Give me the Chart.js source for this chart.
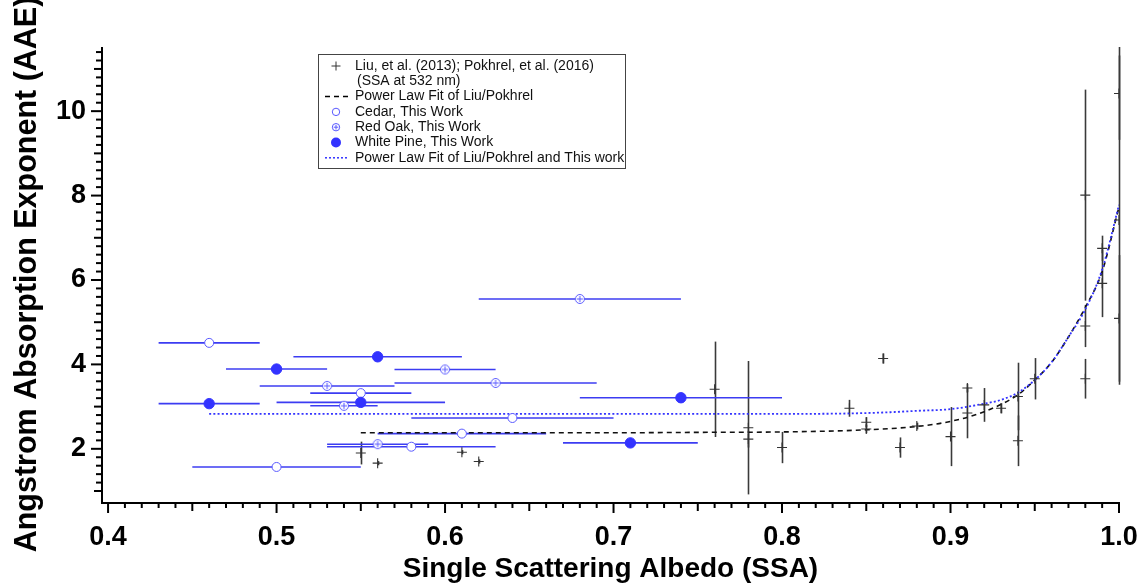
<!DOCTYPE html>
<html><head><meta charset="utf-8">
<script src="https://cdn.jsdelivr.net/npm/chart.js@4.4.0/dist/chart.umd.min.js"></script>
<style>html,body{margin:0;padding:0;background:#fff;overflow:hidden}#wrap{width:1142px;height:583px;position:relative}</style>
</head><body><div id="wrap"><canvas id="c" width="1142" height="583"></canvas></div>
<script>
// ---- data ----
const liuX   = [0.55,0.56,0.61,0.62,0.76,0.78,0.78,0.80,0.84,0.85,0.85,0.86,0.87,0.88,0.90,0.91,0.91,0.92,0.93,0.94,0.94,0.95,0.98,0.98,0.98,0.99,0.99,1.00,1.00,1.00];
const liuY   = [1.90,1.66,1.92,1.70,3.41,2.50,2.23,2.03,2.96,2.63,2.47,4.14,2.03,2.54,2.29,3.44,2.85,3.04,2.96,2.19,3.24,3.66,3.66,4.91,8.01,6.75,5.92,10.42,7.42,5.09];
const liuErr = [0.27,0.05,0.05,0.05,1.13,1.58,0.20,0.37,0.20,0.12,0.10,0.12,0.24,0.08,0.70,0.10,0.60,0.40,0.12,0.60,0.80,0.49,0.47,0.50,2.50,0.30,0.80,1.10,3.90,1.50];

const cedarX    = [0.46,0.55,0.64,0.61,0.58,0.50];
const cedarY    = [4.51,3.32,2.73,2.36,2.05,1.57];
const cedarXErr = [0.03,0.03,0.06,0.05,0.05,0.05];

const oakX    = [0.60,0.63,0.53,0.54,0.56,0.68];
const oakY    = [3.88,3.56,3.49,3.02,2.11,5.55];
const oakXErr = [0.03,0.06,0.04,0.02,0.03,0.06];

const pineX    = [0.56,0.50,0.55,0.46,0.74,0.71];
const pineY    = [4.18,3.89,3.10,3.07,3.21,2.14];
const pineXErr = [0.05,0.03,0.05,0.03,0.06,0.04];

const fitLiuX = [0.55,0.60,0.65,0.70,0.75,0.80,0.85,0.88,0.90,0.92,0.94,0.95,0.96,0.97,0.98,0.99,1.00];
const fitLiuY = [2.38,2.38,2.38,2.38,2.39,2.40,2.45,2.53,2.65,2.88,3.28,3.63,4.05,4.65,5.35,6.20,7.73];
const fitAllX = [0.46,0.55,0.65,0.75,0.82,0.86,0.88,0.90,0.92,0.93,0.94,0.95,0.96,0.97,0.98,0.99,1.00];
const fitAllY = [2.83,2.83,2.83,2.83,2.83,2.86,2.90,2.94,3.07,3.16,3.33,3.63,4.05,4.65,5.30,6.25,7.78];

const xTicks = [0.4,0.5,0.6,0.7,0.8,0.9,1.0];
const yTicks = [2,4,6,8,10];

const legendItems = [
  ['plus',  'Liu, et al. (2013); Pokhrel, et al. (2016)'],
  [null,    '(SSA at 532 nm)'],
  ['dash',  'Power Law Fit of Liu/Pokhrel'],
  ['circle','Cedar, This Work'],
  ['oplus', 'Red Oak, This Work'],
  ['dot',   'White Pine, This Work'],
  ['dotted','Power Law Fit of Liu/Pokhrel and This work']
];

// ---- styles ----
const FONT = "'Liberation Sans', Arial, Helvetica, sans-serif";
const BLUE = '#3333ff';
const BLUE_ERR = '#3c3cf2';
const BLUE_OPEN = '#5a5aff';
const BLACK_PT = '#333333';

const pts = (xs, ys) => xs.map((v, i) => ({x: v, y: ys[i]}));

function oplusCanvas(r) {
  const s = Math.ceil(r * 2 + 3);
  const cv = document.createElement('canvas');
  cv.width = s; cv.height = s;
  const g = cv.getContext('2d');
  const c = s / 2;
  g.fillStyle = '#fff';
  g.strokeStyle = BLUE_OPEN; g.lineWidth = 1;
  g.beginPath(); g.arc(c, c, r, 0, Math.PI * 2); g.fill(); g.stroke();
  g.beginPath();
  g.moveTo(c - r + 1.5, c); g.lineTo(c + r - 1.5, c);
  g.moveTo(c, c - r + 1.5); g.lineTo(c, c + r - 1.5);
  g.stroke();
  return cv;
}
const oakStyle = oplusCanvas(4.5);

const errPlugin = {
  id: 'errbars',
  beforeDatasetsDraw(chart) {
    const {ctx, scales: {x, y}} = chart;
    ctx.save();
    ctx.strokeStyle = '#3a3a3a'; ctx.lineWidth = 1.6;
    liuX.forEach((v, i) => {
      const px = Math.round(x.getPixelForValue(v)) + 0.5;
      ctx.beginPath();
      ctx.moveTo(px, y.getPixelForValue(liuY[i] - liuErr[i]));
      ctx.lineTo(px, y.getPixelForValue(liuY[i] + liuErr[i]));
      ctx.stroke();
    });
    ctx.strokeStyle = BLUE_ERR; ctx.lineWidth = 1.6;
    [[cedarX, cedarY, cedarXErr], [oakX, oakY, oakXErr], [pineX, pineY, pineXErr]].forEach(([xs, ys, es]) => {
      xs.forEach((v, i) => {
        const py = y.getPixelForValue(ys[i]);
        ctx.beginPath();
        ctx.moveTo(x.getPixelForValue(v - es[i]), py);
        ctx.lineTo(x.getPixelForValue(v + es[i]), py);
        ctx.stroke();
      });
    });
    ctx.restore();
  }
};

const axesPlugin = {
  id: 'axesDraw',
  afterDraw(chart) {
    const {ctx, chartArea: a, scales: {x, y}} = chart;
    ctx.save();
    ctx.strokeStyle = '#000'; ctx.lineWidth = 2; ctx.lineCap = 'butt';
    ctx.beginPath();
    ctx.moveTo(a.left, a.top); ctx.lineTo(a.left, a.bottom + 1); ctx.lineTo(a.right + 1, a.bottom + 1);
    ctx.stroke();
    for (let k = 40; k <= 100; k++) {
      const px = x.getPixelForValue(k / 100);
      const len = k % 10 === 0 ? 10 : (k % 5 === 0 ? 8 : 5);
      ctx.beginPath(); ctx.moveTo(px, a.bottom); ctx.lineTo(px, a.bottom + 1 + len); ctx.stroke();
    }
    for (let k = 5; k <= 57; k++) {
      const py = y.getPixelForValue(k / 5);
      const len = k % 10 === 0 ? 11 : (k % 5 === 0 ? 8 : 6);
      ctx.beginPath(); ctx.moveTo(a.left, py); ctx.lineTo(a.left - len, py); ctx.stroke();
    }
    ctx.restore();
  }
};

const legendPlugin = {
  id: 'boxLegend',
  afterDraw(chart) {
    const ctx = chart.ctx;
    const L = 318, T = 54, W = 307, H = 114;
    ctx.save();
    ctx.fillStyle = '#fff'; ctx.fillRect(L, T, W, H);
    ctx.strokeStyle = '#444'; ctx.lineWidth = 1;
    ctx.strokeRect(L + 0.5, T + 0.5, W, H);
    ctx.font = '14px ' + FONT; ctx.fillStyle = '#111'; ctx.textBaseline = 'middle'; ctx.textAlign = 'left';
    const sx = 336, tx = 355;
    legendItems.forEach(([sym, text], i) => {
      const yy = 66 + i * 15.3;
      ctx.fillText(text, sym === null ? tx + 2 : tx, yy);
      ctx.beginPath();
      if (sym === 'plus') {
        ctx.strokeStyle = BLACK_PT; ctx.lineWidth = 1;
        ctx.moveTo(sx - 4.5, yy); ctx.lineTo(sx + 4.5, yy); ctx.moveTo(sx, yy - 4.5); ctx.lineTo(sx, yy + 4.5); ctx.stroke();
      } else if (sym === 'dash') {
        ctx.strokeStyle = '#000'; ctx.lineWidth = 1.5; ctx.setLineDash([5, 4]);
        ctx.moveTo(325, yy); ctx.lineTo(349, yy); ctx.stroke(); ctx.setLineDash([]);
      } else if (sym === 'circle') {
        ctx.strokeStyle = BLUE_OPEN; ctx.lineWidth = 1;
        ctx.arc(sx, yy, 3.7, 0, Math.PI * 2); ctx.stroke();
      } else if (sym === 'oplus') {
        ctx.strokeStyle = BLUE_OPEN; ctx.lineWidth = 1;
        ctx.arc(sx, yy, 3.7, 0, Math.PI * 2);
        ctx.moveTo(sx - 2.3, yy); ctx.lineTo(sx + 2.3, yy); ctx.moveTo(sx, yy - 2.3); ctx.lineTo(sx, yy + 2.3); ctx.stroke();
      } else if (sym === 'dot') {
        ctx.fillStyle = BLUE; ctx.arc(sx, yy, 5, 0, Math.PI * 2); ctx.fill(); ctx.fillStyle = '#111';
      } else if (sym === 'dotted') {
        ctx.strokeStyle = BLUE; ctx.lineWidth = 1.5; ctx.setLineDash([2, 2]);
        ctx.moveTo(325, yy); ctx.lineTo(349, yy); ctx.stroke(); ctx.setLineDash([]);
      }
    });
    ctx.restore();
  }
};

new Chart(document.getElementById('c'), {
  type: 'scatter',
  data: {
    datasets: [
      {label: 'White Pine, This Work', data: pts(pineX, pineY), pointStyle: 'circle', pointRadius: 5.2,
       backgroundColor: BLUE, borderColor: BLUE, borderWidth: 1},
      {label: 'Red Oak, This Work', data: pts(oakX, oakY), pointStyle: oakStyle, pointRadius: 5},
      {label: 'Cedar, This Work', data: pts(cedarX, cedarY), pointStyle: 'circle', pointRadius: 4.5,
       backgroundColor: '#fff', borderColor: BLUE_OPEN, borderWidth: 1},
      {label: 'Liu, et al. (2013); Pokhrel, et al. (2016)', data: pts(liuX, liuY), pointStyle: 'cross', pointRadius: 5,
       borderColor: BLACK_PT, borderWidth: 1.1},
      {label: 'Power Law Fit of Liu/Pokhrel and This work', data: pts(fitAllX, fitAllY), showLine: true, pointRadius: 0,
       borderColor: BLUE, borderWidth: 1.8, borderDash: [2, 2.2], cubicInterpolationMode: 'monotone', fill: false},
      {label: 'Power Law Fit of Liu/Pokhrel', data: pts(fitLiuX, fitLiuY), showLine: true, pointRadius: 0,
       borderColor: '#111', borderWidth: 1.6, borderDash: [5, 4], cubicInterpolationMode: 'monotone', fill: false}
    ]
  },
  options: {
    responsive: false, animation: false, devicePixelRatio: 1,
    layout: {padding: {left: 0, right: 23, top: 47, bottom: 0}},
    plugins: {legend: {display: false}, tooltip: {enabled: false}},
    events: [],
    scales: {
      x: {
        type: 'linear', min: 0.3964, max: 1.0,
        grid: {display: false, drawTicks: false}, border: {display: false},
        afterBuildTicks: s => { s.ticks = xTicks.map(v => ({value: v})); },
        afterFit: s => { s.height = 81; s.paddingLeft = 0; s.paddingRight = 0; },
        ticks: {autoSkip: false, maxRotation: 0, padding: 19, color: '#000',
                font: {family: FONT, size: 27, weight: 'bold'}, callback: v => v.toFixed(1)},
        title: {display: true, text: 'Single Scattering Albedo (SSA)', color: '#000',
                font: {family: FONT, size: 28, weight: 'bold', lineHeight: 1}, padding: {top: 0, bottom: 0}}
      },
      y: {
        type: 'linear', min: 0.74, max: 11.52,
        grid: {display: false, drawTicks: false}, border: {display: false},
        afterBuildTicks: s => { s.ticks = yTicks.map(v => ({value: v})); },
        afterFit: s => { s.width = 102; s.paddingTop = 0; s.paddingBottom = 0; },
        ticks: {autoSkip: false, padding: 16, color: '#000',
                font: {family: FONT, size: 27, weight: 'bold'}, callback: v => String(v)},
        title: {display: true, text: 'Angstrom Absorption Exponent (AAE)', color: '#000',
                font: {family: FONT, size: 30.5, weight: 'bold', lineHeight: 1.2}, padding: {top: 9, bottom: 0}}
      }
    }
  },
  plugins: [errPlugin, axesPlugin, legendPlugin]
});
</script>
</body></html>
